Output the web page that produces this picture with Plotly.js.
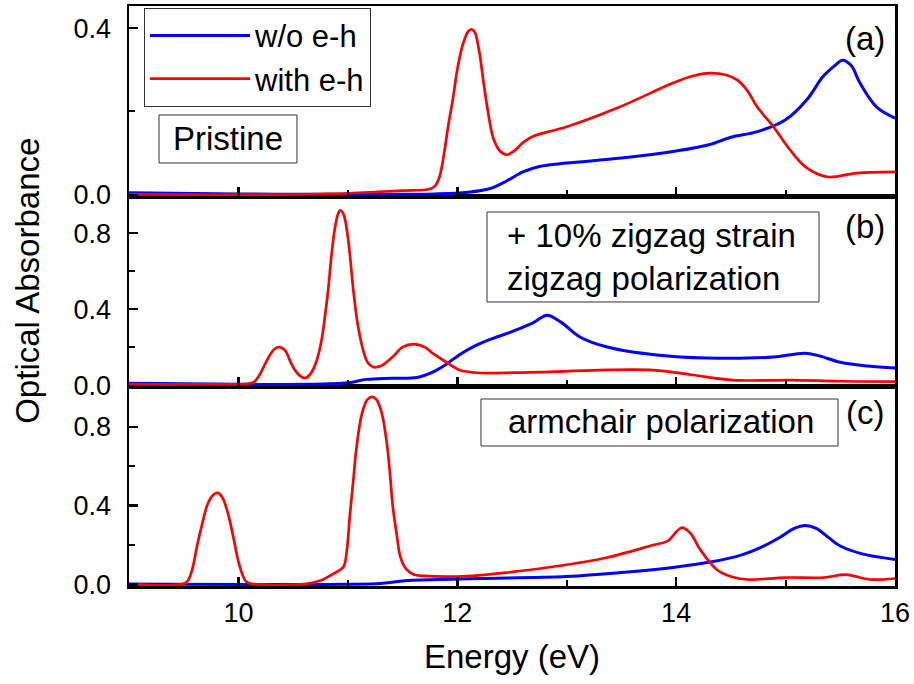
<!DOCTYPE html>
<html>
<head>
<meta charset="utf-8">
<script src="https://cdn.plot.ly/plotly-3.0.1.min.js"></script>
<style>html,body{margin:0;padding:0;background:#fff;}#chart{width:914px;height:684px;}</style>
</head>
<body>
<div id="chart"></div>
<script>
// Panel (a) Pristine
const energyA_wo = [9, 10, 11, 11.8, 12.1, 12.3, 12.45, 12.6, 12.75, 13.0, 13.5, 14.0, 14.3, 14.5, 14.75, 15.0, 15.2, 15.34, 15.45, 15.52, 15.6, 15.68, 15.83, 16];
const absA_wo    = [0.005, 0.002, 0.001, 0.002, 0.006, 0.015, 0.033, 0.055, 0.068, 0.076, 0.088, 0.105, 0.12, 0.138, 0.152, 0.18, 0.23, 0.283, 0.31, 0.323, 0.31, 0.268, 0.211, 0.184];
const energyA_w  = [9, 10, 10.8, 11.2, 11.5, 11.75, 11.8, 11.84, 11.88, 11.92, 11.96, 12.0, 12.05, 12.1, 12.13, 12.16, 12.2, 12.24, 12.28, 12.33, 12.39, 12.45, 12.52, 12.6, 12.69, 13.0, 13.46, 13.97, 14.15, 14.31, 14.45, 14.56, 14.65, 14.74, 14.89, 15.04, 15.19, 15.38, 15.65, 16];
const absA_w     = [0.001, 0, 0.002, 0.006, 0.01, 0.014, 0.022, 0.045, 0.1, 0.17, 0.23, 0.3, 0.36, 0.392, 0.397, 0.39, 0.345, 0.27, 0.2, 0.135, 0.105, 0.096, 0.105, 0.125, 0.14, 0.163, 0.208, 0.268, 0.285, 0.292, 0.288, 0.275, 0.25, 0.211, 0.163, 0.108, 0.065, 0.043, 0.052, 0.055];
// Panel (b) +10% zigzag strain, zigzag polarization
const energyB_wo = [9, 10, 10.6, 11.0, 11.17, 11.4, 11.63, 11.78, 11.9, 12.02, 12.14, 12.3, 12.54, 12.7, 12.82, 12.95, 13.12, 13.37, 13.82, 14.28, 14.89, 15.05, 15.18, 15.3, 15.5, 15.75, 16];
const absB_wo    = [0.01, 0.004, 0.004, 0.012, 0.03, 0.036, 0.04, 0.07, 0.11, 0.16, 0.2, 0.24, 0.29, 0.33, 0.368, 0.33, 0.253, 0.2, 0.158, 0.142, 0.148, 0.16, 0.168, 0.155, 0.12, 0.1, 0.09];
const energyB_w  = [9, 10, 10.08, 10.14, 10.19, 10.23, 10.28, 10.33, 10.38, 10.43, 10.47, 10.51, 10.56, 10.61, 10.66, 10.71, 10.76, 10.79, 10.82, 10.85, 10.88, 10.91, 10.93, 10.96, 11.0, 11.05, 11.09, 11.14, 11.18, 11.23, 11.3, 11.41, 11.5, 11.6, 11.7, 11.78, 11.9, 12.02, 12.15, 12.27, 12.5, 12.76, 13.3, 13.79, 14.15, 14.52, 15.04, 15.5, 16];
const absB_w     = [0.005, 0.004, 0.006, 0.015, 0.05, 0.095, 0.15, 0.19, 0.2, 0.18, 0.13, 0.085, 0.05, 0.037, 0.06, 0.12, 0.237, 0.36, 0.5, 0.68, 0.82, 0.9, 0.92, 0.9, 0.78, 0.5, 0.32, 0.184, 0.12, 0.095, 0.1, 0.149, 0.2, 0.216, 0.2, 0.165, 0.12, 0.079, 0.066, 0.063, 0.065, 0.068, 0.079, 0.079, 0.053, 0.026, 0.026, 0.02, 0.018];
// Panel (c) armchair polarization
const energyC_wo = [9, 11, 11.3, 11.5, 11.84, 12.2, 13.0, 13.5, 13.97, 14.34, 14.6, 14.77, 14.95, 15.08, 15.18, 15.28, 15.4, 15.5, 15.7, 16];
const absC_wo    = [0.002, 0.001, 0.005, 0.018, 0.025, 0.03, 0.04, 0.06, 0.086, 0.116, 0.15, 0.187, 0.24, 0.285, 0.3, 0.285, 0.235, 0.195, 0.155, 0.127];
const energyC_w  = [9, 9.5, 9.54, 9.58, 9.62, 9.67, 9.72, 9.77, 9.81, 9.85, 9.9, 9.95, 9.99, 10.03, 10.07, 10.12, 10.62, 10.75, 10.87, 10.96, 10.99, 11.02, 11.05, 11.08, 11.13, 11.18, 11.22, 11.26, 11.31, 11.36, 11.39, 11.41, 11.45, 11.48, 11.53, 11.6, 11.7, 12.0, 12.45, 13.0, 13.37, 13.79, 13.92, 14.05, 14.13, 14.22, 14.37, 14.5, 14.65, 15.0, 15.35, 15.55, 15.77, 16];
const absC_w     = [0.002, 0.003, 0.02, 0.08, 0.19, 0.31, 0.41, 0.455, 0.465, 0.445, 0.37, 0.25, 0.14, 0.06, 0.015, 0.003, 0.003, 0.02, 0.055, 0.09, 0.17, 0.36, 0.53, 0.7, 0.87, 0.94, 0.953, 0.94, 0.87, 0.7, 0.53, 0.4, 0.24, 0.14, 0.08, 0.05, 0.043, 0.04, 0.06, 0.1, 0.137, 0.2, 0.22, 0.288, 0.26, 0.177, 0.076, 0.04, 0.025, 0.035, 0.035, 0.05, 0.025, 0.03];

const seriesNames = ['w/o e-h', 'with e-h'];
const panelLabels = ['(a)', '(b)', '(c)'];
const panelNotes = ['Pristine', '+ 10% zigzag strain<br>zigzag polarization', 'armchair polarization'];
const xTitle = 'Energy (eV)';
const yTitle = 'Optical Absorbance';

const BLUE = '#0000ff', RED = '#ff0000';
const FONT = 'Liberation Sans, Arial, sans-serif';

function tr(x, y, xa, ya, color, width, name, show) {
  return {x: x, y: y, xaxis: xa, yaxis: ya, type: 'scatter', mode: 'lines',
    line: {color: color, width: width, shape: 'spline', smoothing: 1.0},
    name: name, showlegend: show, hoverinfo: 'skip'};
}

const data = [
  tr(energyA_wo, absA_wo, 'x3', 'y3', BLUE, 3, seriesNames[0], true),
  tr(energyA_w, absA_w, 'x3', 'y3', RED, 2.7, seriesNames[1], true),
  tr(energyB_wo, absB_wo, 'x2', 'y2', BLUE, 3, seriesNames[0], false),
  tr(energyB_w, absB_w, 'x2', 'y2', RED, 2.7, seriesNames[1], false),
  tr(energyC_wo, absC_wo, 'x', 'y', BLUE, 3, seriesNames[0], false),
  tr(energyC_w, absC_w, 'x', 'y', RED, 2.7, seriesNames[1], false)
];

function xax(anchor, labels) {
  return {anchor: anchor, domain: [0, 1], range: [9, 16], tick0: 10, dtick: 2,
    ticks: 'inside', ticklen: 9, tickwidth: 2.5, tickcolor: '#000',
    minor: {dtick: 1, tick0: 9, ticks: 'inside', ticklen: 6, tickwidth: 2, tickcolor: '#000'},
    showticklabels: labels, showline: true, linewidth: 2.5, linecolor: '#000', mirror: true,
    showgrid: false, zeroline: false, ticklabelstandoff: 1,
    tickfont: {family: FONT, size: 27, color: '#000'}};
}
function yax(anchor, domain, range, minorVals) {
  return {anchor: anchor, domain: domain, range: range, tick0: 0, dtick: 0.4, tickformat: '.1f',
    ticks: 'inside', ticklen: 9, tickwidth: 2.5, tickcolor: '#000',
    minor: {tickmode: 'array', tickvals: minorVals, ticks: 'inside', ticklen: 6, tickwidth: 2, tickcolor: '#000'},
    showline: true, linewidth: 2.5, linecolor: '#000', mirror: true,
    showgrid: false, zeroline: false, ticklabelstandoff: 10,
    tickfont: {family: FONT, size: 27, color: '#000'}};
}

const xaxis = xax('y', true);
xaxis.title = {text: xTitle, font: {family: FONT, size: 33, color: '#000'}, standoff: 18};

const txtAnn = (text, x, y, xanchor, align) => ({text: text, xref: 'paper', yref: 'paper', x: x, y: y,
  xanchor: xanchor, yanchor: 'middle', showarrow: false, align: align,
  font: {family: FONT, size: 33, color: '#000'}});
const boxShape = (x0, y0, x1, y1) => ({type: 'rect', xref: 'paper', yref: 'paper', x0: x0, y0: y0, x1: x1, y1: y1,
  line: {color: '#333', width: 1}, fillcolor: 'rgba(0,0,0,0)', layer: 'above'});

const layout = {
  width: 914, height: 684,
  margin: {l: 129, r: 19, t: 6, b: 98},
  paper_bgcolor: '#fff', plot_bgcolor: '#fff',
  font: {family: FONT, color: '#000'},
  showlegend: true,
  legend: {x: 0.0196, y: 0.997, xanchor: 'left', yanchor: 'top', bgcolor: '#fff',
    bordercolor: '#333', borderwidth: 1, font: {family: FONT, size: 31, color: '#000'},
    itemwidth: 100, tracegroupgap: 0},
  xaxis: xaxis,
  xaxis2: xax('y2', false),
  xaxis3: xax('y3', false),
  yaxis: yax('x', [0, 0.3448], [-0.008, 1.008], [0.2, 0.6]),
  yaxis2: yax('x2', [0.3448, 0.6724], [-0.005, 0.995], [0.2, 0.6]),
  yaxis3: yax('x3', [0.6724, 1], [-0.003, 0.453], [0.2]),
  shapes: [
    boxShape(0.0392, 0.7293, 0.2193, 0.8121),
    boxShape(0.4674, 0.4897, 0.9008, 0.6448),
    boxShape(0.4595, 0.2414, 0.9256, 0.3224)
  ],
  annotations: [
    txtAnn(panelNotes[0], 0.1292, 0.7707, 'center', 'center'),
    txtAnn(panelNotes[1], 0.4909, 0.567, 'left', 'left'),
    txtAnn(panelNotes[2], 0.6945, 0.2828, 'center', 'center'),
    txtAnn(panelLabels[0], 0.961, 0.9448, 'center', 'center'),
    txtAnn(panelLabels[1], 0.961, 0.619, 'center', 'center'),
    txtAnn(panelLabels[2], 0.961, 0.30, 'center', 'center'),
    {text: yTitle, xref: 'paper', yref: 'paper', x: -0.132, y: 0.526, xanchor: 'center', yanchor: 'middle',
     textangle: -90, showarrow: false, font: {family: FONT, size: 33, color: '#000'}}
  ]
};

Plotly.newPlot('chart', data, layout, {displayModeBar: false, staticPlot: true});
</script>
</body>
</html>
